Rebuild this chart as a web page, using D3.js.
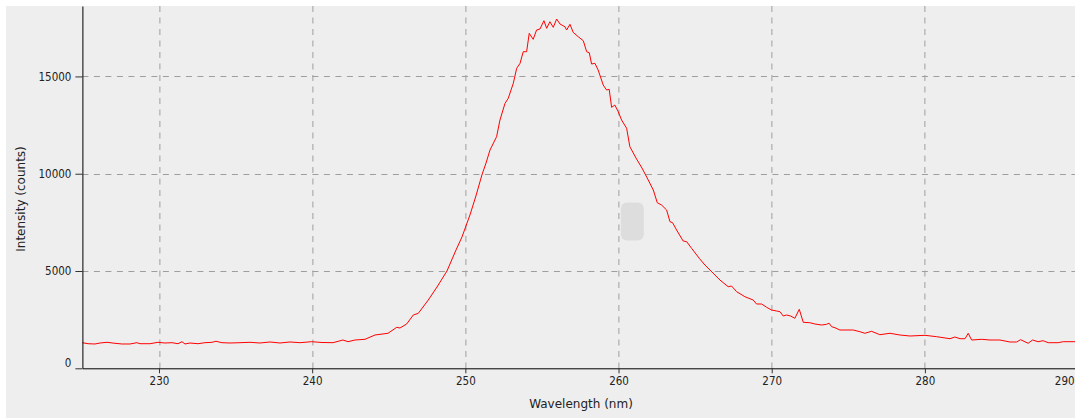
<!DOCTYPE html>
<html>
<head>
<meta charset="utf-8">
<script src="https://cdn.jsdelivr.net/npm/d3@7"></script>
<style>
    body { margin: 0; background: #ffffff; }
    svg { display: block; }
    .tick text { font-family: "DejaVu Sans Condensed", "DejaVu Sans", sans-serif; font-stretch: condensed; font-size: 11.5px; fill: #222; }
    .axis-label { font-family: "DejaVu Sans", sans-serif; font-size: 12px; fill: #222; }
</style>
</head>
<body>
<div id="chart"></div>
<script>
// spectrum: wavelength (nm) and intensity (counts)
var wavelength = [
    225.00, 225.37, 225.82, 226.15, 226.61, 227.13, 227.58, 228.11, 228.56, 228.76,
    229.42, 229.93, 230.39, 230.85, 231.24, 231.50, 231.70, 232.02, 232.55, 233.00,
    233.46, 233.72, 234.11, 234.63, 235.29, 235.94, 236.59, 237.25, 237.90, 238.55,
    239.21, 239.97, 240.64, 241.36, 242.01, 242.34, 242.80, 243.45, 244.10, 244.95,
    245.52, 245.73, 246.17, 246.60, 246.93, 247.58, 248.15, 248.80, 249.39, 249.78,
    250.30, 250.69, 251.08, 251.35, 251.61, 252.04, 252.26, 252.59, 252.80, 253.13,
    253.35, 253.57, 253.78, 254.00, 254.17, 254.43, 254.65, 254.87, 255.13, 255.31,
    255.52, 255.74, 255.96, 256.18, 256.50, 256.61, 256.83, 257.04, 257.37, 257.70,
    257.92, 258.09, 258.24, 258.46, 258.67, 259.00, 259.22, 259.39, 259.55, 259.76,
    259.98, 260.20, 260.53, 260.74, 261.14, 261.53, 261.94, 262.27, 262.53, 262.81,
    263.14, 263.36, 263.53, 263.79, 264.22, 264.45, 264.77, 265.27, 265.64, 266.10,
    266.62, 267.16, 267.38, 267.71, 268.25, 268.79, 269.01, 269.34, 269.67, 269.99,
    270.32, 270.54, 270.75, 270.97, 271.23, 271.51, 271.80, 272.06, 272.49, 272.82,
    273.26, 273.58, 273.75, 273.91, 274.13, 274.45, 275.32, 275.76, 276.08, 276.52,
    277.06, 277.72, 278.37, 279.03, 280.01, 280.77, 281.64, 281.96, 282.29, 282.62,
    282.83, 283.05, 283.71, 284.25, 284.90, 285.55, 285.99, 286.25, 286.74, 287.03,
    287.39, 287.72, 288.05, 288.70, 289.03, 289.80
];
var intensity = [
    1316, 1264, 1249, 1300, 1336, 1285, 1249, 1249, 1316, 1264,
    1264, 1336, 1300, 1316, 1264, 1367, 1249, 1300, 1264, 1316,
    1336, 1388, 1316, 1300, 1316, 1336, 1300, 1352, 1300, 1352,
    1316, 1367, 1326, 1316, 1454, 1367, 1454, 1490, 1711, 1799,
    2107, 2071, 2277, 2739, 2826, 3510, 4178, 5000, 6080, 6748,
    7878, 8855, 9934, 10551, 11219, 11902, 12760, 13618, 13875, 14646,
    15417, 15674, 16270, 16270, 17216, 16907, 17385, 17437, 17863, 17473,
    17812, 17524, 17950, 17694, 17555, 17385, 17678, 17267, 17041, 16835,
    16270, 16219, 15638, 15674, 15330, 14559, 14302, 14338, 13413, 13531,
    13187, 12760, 12334, 11388, 10807, 10293, 9677, 9163, 8510, 8392,
    8135, 7534, 7482, 7107, 6542, 6506, 6167, 5653, 5309, 4949,
    4538, 4193, 4229, 3937, 3680, 3510, 3304, 3304, 3135, 2996,
    2945, 2909, 2688, 2739, 2688, 2570, 3032, 2364, 2343, 2277,
    2225, 2261, 2313, 2138, 2086, 1968, 1968, 1881, 1799, 1901,
    1727, 1799, 1711, 1660, 1696, 1624, 1521, 1609, 1521, 1521,
    1799, 1454, 1490, 1454, 1454, 1352, 1352, 1470, 1285, 1454,
    1367, 1418, 1316, 1316, 1367, 1367
];
var x_ticks = [230, 240, 250, 260, 270, 280, 290];
var y_ticks = [0, 5000, 10000, 15000];
var x_domain = [225, 289.8];
var y_domain = [0, 18620];

var margins = {top: 6, right: 0, bottom: 50.7, left: 82.4},
    full_width = 1075,
    full_height = 419,
    width = full_width - margins.left - margins.right,
    height = full_height - margins.top - margins.bottom;

var data = wavelength.map(function(w, k) {
    return {wavelength: w, intensity: intensity[k]};
});

var x = d3.scaleLinear().domain(x_domain).range([0, width]);
var y = d3.scaleLinear().domain(y_domain).range([height, 0]);

var svg = d3.select('#chart').append('svg')
    .attr('width', full_width)
    .attr('height', full_height);

// grey panel
svg.append('rect')
    .attr('x', 6)
    .attr('y', 6)
    .attr('width', full_width - 6)
    .attr('height', full_height - 7)
    .style('fill', '#eeeeee');

var g = svg.append('g')
    .attr('transform', 'translate(' + margins.left + ',' + margins.top + ')');

/*
 * Grid
 */
g.selectAll('line.vgrid')
    .data(x_ticks.filter(function(d) { return d < x_domain[1]; }))
    .enter()
    .append('line')
    .attr('class', 'vgrid')
    .attr('x1', function(d) { return Math.round(x(d)) + 0.5; })
    .attr('x2', function(d) { return Math.round(x(d)) + 0.5; })
    .attr('y1', 0)
    .attr('y2', height)
    .style('stroke', '#9e9e9e')
    .style('stroke-dasharray', '6,5.5');

g.selectAll('line.hgrid')
    .data(y_ticks.filter(function(d) { return d > 0; }))
    .enter()
    .append('line')
    .attr('class', 'hgrid')
    .attr('x1', 0)
    .attr('x2', width)
    .attr('y1', function(d) { return Math.round(y(d)) + 0.5; })
    .attr('y2', function(d) { return Math.round(y(d)) + 0.5; })
    .style('stroke', '#9e9e9e')
    .style('stroke-dasharray', '6,5.5');

// faint smudge sitting on the plot
g.append('rect')
    .attr('x', x(260.15))
    .attr('y', y(8525))
    .attr('width', x(261.65) - x(260.15))
    .attr('height', y(6570) - y(8525))
    .attr('rx', 6)
    .style('fill', '#dddddd');

/*
 * Spectrum
 */
var line = d3.line()
    .x(function(d) { return x(d.wavelength); })
    .y(function(d) { return y(d.intensity); });

g.append('path')
    .datum(data)
    .attr('d', line)
    .style('fill', 'none')
    .style('stroke', '#ff0000')
    .style('stroke-width', 1);

/*
 * Axes
 */
var x_axis = g.append('g')
    .attr('class', 'axis')
    .attr('transform', 'translate(0,' + height + ')')
    .call(d3.axisBottom(x).tickValues(x_ticks).tickSize(5).tickPadding(4).tickSizeOuter(0));

// last label would hang off the right edge, pull it back inside
x_axis.selectAll('.tick text')
    .attr('text-anchor', function(d) { return d === 290 ? 'end' : 'middle'; })
    .attr('dx', function(d) { return d === 290 ? -4 : 0; });

var y_axis = g.append('g')
    .attr('class', 'axis')
    .call(d3.axisLeft(y).tickValues(y_ticks).tickFormat(d3.format('d'))
        .tickSize(7).tickPadding(4).tickSizeOuter(0));

y_axis.selectAll('.tick text')
    .attr('dy', function(d) { return d === 0 ? '-0.2em' : '0.32em'; });

d3.selectAll('.axis .domain').style('stroke', '#000');
d3.selectAll('.axis .tick line').style('stroke', '#333');

svg.append('text')
    .attr('class', 'axis-label')
    .attr('x', 581)
    .attr('y', 408)
    .attr('text-anchor', 'middle')
    .text('Wavelength (nm)');

svg.append('text')
    .attr('class', 'axis-label')
    .attr('transform', 'translate(25,199) rotate(-90)')
    .attr('text-anchor', 'middle')
    .text('Intensity (counts)');
</script>
</body>
</html>
